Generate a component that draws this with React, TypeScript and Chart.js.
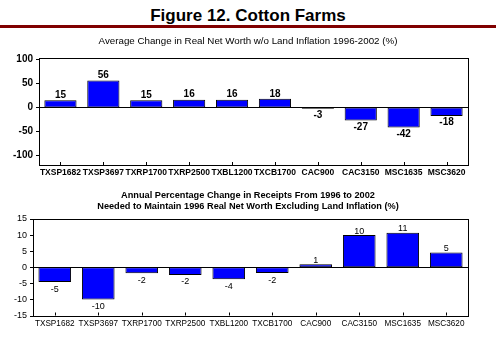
import React, { useEffect, useRef } from "react";
import { Chart, registerables } from "chart.js";

Chart.register(...registerables);

const FONT = '"Liberation Sans", Arial, Helvetica, sans-serif';

const categories = [
  "TXSP1682", "TXSP3697", "TXRP1700", "TXRP2500", "TXBL1200",
  "TXCB1700", "CAC900", "CAC3150", "MSC1635", "MSC3620",
];

const netWorthChange = [15, 56, 15, 16, 16, 18, -3, -27, -42, -18];
const receiptsChange = [-4.6, -10, -1.9, -2.4, -3.7, -1.8, 0.9, 10, 10.7, 4.6];

const ticks1 = [100, 50, 0, -50, -100];
const ticks2 = [15, 10, 5, 0, -5, -10, -15];

const title1 = ["Average Change in Real Net Worth w/o Land Inflation 1996-2002 (%)"];
const title2 = [
  "Annual Percentage Change in Receipts From 1996 to 2002",
  "Needed to Maintain 1996 Real Net Worth Excluding Land Inflation (%)",
];

type Cfg = {
  values: number[];
  ticks: number[];
  min: number;
  max: number;
  title: string[];
  titleFont: string;
  titleY: number;
  titleLine: number;
  top: number;
  bold: boolean;
  xFontSize: number;
  yFontSize: number;
  labelFontSize: number;
  yWidth: number;
  xHeight: number;
  xPad: number;
  yPad: number;
  labelAbove: number;
  labelBelow: number;
};

function makeFramePlugin(cfg: Cfg) {
  return {
    id: "frame",
    afterDatasetsDraw(chart: any) {
      const ctx = chart.ctx;
      const a = chart.chartArea;
      const ys = chart.scales.y;
      const xs = chart.scales.x;
      ctx.save();
      // titles
      ctx.fillStyle = "#000";
      ctx.font = cfg.titleFont;
      ctx.textAlign = "center";
      ctx.textBaseline = "middle";
      cfg.title.forEach((t, i) => {
        ctx.fillText(t, chart.width / 2, cfg.titleY + i * cfg.titleLine);
      });
      ctx.strokeStyle = "#000";
      ctx.lineWidth = 1;
      // frame
      ctx.strokeRect(Math.round(a.left) + 0.5, Math.round(a.top) + 0.5,
        Math.round(a.right - a.left), Math.round(a.bottom - a.top));
      // zero line
      const y0 = Math.round(ys.getPixelForValue(0)) + 0.5;
      ctx.beginPath();
      ctx.moveTo(a.left, y0);
      ctx.lineTo(a.right, y0);
      ctx.stroke();
      // y tick marks (outside)
      ctx.beginPath();
      cfg.ticks.forEach((v) => {
        const y = Math.round(ys.getPixelForValue(v)) + 0.5;
        ctx.moveTo(a.left - 3, y);
        ctx.lineTo(a.left, y);
      });
      // x tick marks (inside)
      categories.forEach((_, i) => {
        const x = Math.round(xs.getPixelForValue(i)) + 0.5;
        ctx.moveTo(x, a.bottom);
        ctx.lineTo(x, a.bottom - 3);
      });
      ctx.stroke();
      // data labels
      const meta = chart.getDatasetMeta(0);
      ctx.fillStyle = "#000";
      ctx.font = `${cfg.bold ? "bold " : ""}${cfg.labelFontSize}px ${FONT}`;
      ctx.textAlign = "center";
      ctx.textBaseline = "middle";
      meta.data.forEach((bar: any, i: number) => {
        const v = cfg.values[i];
        const txt = String(Math.round(v));
        const top = Math.min(bar.y, bar.base);
        const bottom = Math.max(bar.y, bar.base);
        if (v >= 0) ctx.fillText(txt, bar.x, top - cfg.labelAbove);
        else ctx.fillText(txt, bar.x, bottom + cfg.labelBelow);
      });
      ctx.restore();
    },
  };
}

function BarChart({ cfg, style }: { cfg: Cfg; style: React.CSSProperties }) {
  const ref = useRef<HTMLCanvasElement | null>(null);
  useEffect(() => {
    if (!ref.current) return;
    const weight = cfg.bold ? "bold" : "normal";
    const chart = new Chart(ref.current, {
      type: "bar",
      data: {
        labels: categories,
        datasets: [
          {
            data: cfg.values,
            backgroundColor: "#0000FF",
            borderColor: "#000000",
            borderWidth: 1,
            borderSkipped: false,
            barPercentage: 0.75,
            categoryPercentage: 1,
          },
        ],
      },
      options: {
        animation: false,
        responsive: false,
        maintainAspectRatio: false,
        layout: { padding: { left: 0, right: 28, top: cfg.top, bottom: 0 } },
        plugins: {
          legend: { display: false },
          tooltip: { enabled: false },
          title: { display: false },
        },
        scales: {
          x: {
            grid: { display: false, drawTicks: false, tickLength: 0 },
            border: { display: false },
            ticks: {
              color: "#000",
              font: { family: FONT, size: cfg.xFontSize, weight: weight },
              padding: cfg.xPad,
              maxRotation: 0,
              minRotation: 0,
              autoSkip: false,
            },
            afterFit: (s: any) => {
              s.height = cfg.xHeight;
            },
          },
          y: {
            min: cfg.min,
            max: cfg.max,
            grid: { display: false, drawTicks: false, tickLength: 0 },
            border: { display: false },
            ticks: {
              color: "#000",
              font: { family: FONT, size: cfg.yFontSize, weight: weight },
              padding: cfg.yPad,
            },
            afterBuildTicks: (s: any) => {
              s.ticks = cfg.ticks.map((v) => ({ value: v }));
            },
            afterFit: (s: any) => {
              s.width = cfg.yWidth;
            },
          },
        },
      },
      plugins: [makeFramePlugin(cfg)],
    } as any);
    return () => chart.destroy();
  }, []);
  const w = style.width as number;
  const h = style.height as number;
  return <canvas ref={ref} width={w} height={h} style={{ ...style, position: "absolute", display: "block" }} />;
}

const cfg1: Cfg = {
  values: netWorthChange,
  ticks: ticks1,
  min: -120,
  max: 103,
  title: title1,
  titleFont: `normal 9.75px ${FONT}`,
  titleY: 11.5,
  titleLine: 11,
  top: 28,
  bold: true,
  xFontSize: 8.5,
  yFontSize: 10,
  labelFontSize: 10,
  yWidth: 39,
  xHeight: 15,
  xPad: 3,
  yPad: 6,
  labelAbove: 5,
  labelBelow: 6.5,
};

const cfg2: Cfg = {
  values: receiptsChange,
  ticks: ticks2,
  min: -15,
  max: 15,
  title: title2,
  titleFont: `bold 9.2px ${FONT}`,
  titleY: 15,
  titleLine: 11,
  top: 39,
  bold: false,
  xFontSize: 8.2,
  yFontSize: 9,
  labelFontSize: 9,
  yWidth: 33,
  xHeight: 21.5,
  xPad: 3.6,
  yPad: 6,
  labelAbove: 4,
  labelBelow: 7,
};

export default function App() {
  return (
    <div style={{ position: "absolute", left: 0, top: 0, width: 496, height: 337, background: "#fff", overflow: "hidden" }}>
      <div
        style={{
          position: "absolute",
          left: 0,
          top: 5,
          width: 496,
          textAlign: "center",
          fontFamily: FONT,
          fontWeight: "bold",
          fontSize: 17,
          lineHeight: "22px",
          color: "#000",
        }}
      >
        Figure 12. Cotton Farms
      </div>
      <div style={{ position: "absolute", left: 0, top: 25, width: 496, height: 3, background: "#800000" }} />
      <BarChart cfg={cfg1} style={{ left: 0, top: 30, width: 496, height: 150 }} />
      <BarChart cfg={cfg2} style={{ left: 0, top: 180, width: 496, height: 157 }} />
    </div>
  );
}
